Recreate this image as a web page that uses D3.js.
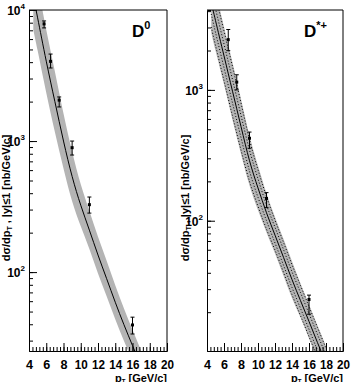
<!DOCTYPE html>
<html>
<head>
<meta charset="utf-8">
<script src="https://cdn.jsdelivr.net/npm/d3@7"></script>
<style>
body { margin: 0; background: #fff; }
text { font-family: "Liberation Sans", Arial, Helvetica, sans-serif; font-weight: bold; fill: #000; }
</style>
</head>
<body>
<svg id="chart" width="354" height="382"></svg>
<script>
// measured points (nb/GeV/c)
const d0Pt   = [5.75, 6.5, 7.5, 9, 11, 16];
const d0Val  = [7837, 4056, 2052, 890, 327, 39.5];
const d0Lo   = [7300, 3610, 1820, 782, 282, 33.7];
const d0Hi   = [8250, 4610, 2170, 1000, 374, 45.3];

const dsPt   = [6.5, 7.5, 9, 11, 16];
const dsVal  = [2421, 1147, 427, 148, 25];
const dsLo   = [1995, 1000, 358, 126, 19.3];
const dsHi   = [2894, 1305, 476, 164, 27];

// theory curves
const thPt     = [4.5, 5, 6, 7, 8, 9, 10, 11, 12, 13, 14, 15, 16, 17, 18];
const d0Th     = [12600, 8710, 4070, 2000, 1000, 537, 324, 209, 135, 89.1, 58.9, 39.8, 27.5, 19.1, 13.2];
const d0ThHi   = [22400, 15500, 7080, 3390, 1620, 832, 468, 292, 186, 122, 79.4, 53.1, 36.3, 25.1, 17.4];
const d0ThLo   = [7080, 4900, 2340, 1170, 617, 347, 224, 150, 97.7, 65.3, 43.7, 29.9, 20.9, 14.5, 10];

const dsTh     = [4680, 3390, 1820, 977, 525, 288, 178, 115, 77.6, 52.5, 35.5, 24.5, 17.0, 11.7, 8.13];
const dsThHi   = [7940, 5750, 3020, 1622, 851, 447, 263, 162, 107, 72.4, 49.0, 33.1, 22.9, 15.8, 11.0];
const dsThLo   = [2750, 2000, 1100, 589, 324, 186, 120, 81.3, 56.2, 38.0, 25.7, 18.2, 12.6, 8.71, 6.03];
const dsInHi   = [5750, 4170, 2240, 1200, 638, 347, 209, 132, 89.1, 60.3, 40.7, 28.2, 19.5, 13.5, 9.33];
const dsInLo   = [3800, 2750, 1480, 794, 432, 240, 151, 100, 67.6, 45.7, 30.9, 21.4, 14.8, 10.2, 7.08];
const dsOutHi  = [7240, 5250, 2820, 1510, 794, 417, 245, 153, 101, 68.4, 46.2, 32.0, 22.1, 15.3, 10.6];
const dsOutLo  = [3020, 2190, 1175, 631, 347, 200, 129, 86.1, 59.6, 40.3, 27.2, 18.8, 13.0, 9.02, 6.24];

const xTicks = [4, 6, 8, 10, 12, 14, 16, 18, 20];

const svg = d3.select("#chart");

function drawPanel(p) {
  let x = d3.scaleLinear().domain([4, 20]).range([p.left, p.right]);
  let y = d3.scaleLog().domain(p.ydom).range([p.bottom, p.top]);
  let g = svg.append("g");

  g.append("clipPath").attr("id", p.id + "clip")
    .append("rect")
    .attr("x", p.left).attr("y", p.top)
    .attr("width", p.right - p.left).attr("height", p.bottom - p.top);

  let plot = g.append("g").attr("clip-path", "url(#" + p.id + "clip)");

  let area = d3.area()
    .x(function(d, i) { return x(thPt[i]); })
    .y0(function(d) { return y(d[0]); })
    .y1(function(d) { return y(d[1]); })
    .curve(d3.curveNatural);

  plot.append("path")
    .attr("fill", "#b4b4b4")
    .attr("d", area(p.lo.map(function(v, i) { return [v, p.hi[i]]; })));

  let line = d3.line()
    .x(function(d, i) { return x(thPt[i]); })
    .y(function(d) { return y(d); })
    .curve(d3.curveNatural);

  (p.dotted || []).forEach(function(arr) {
    plot.append("path")
      .attr("fill", "none")
      .attr("stroke", "#000")
      .attr("stroke-width", 1)
      .attr("stroke-dasharray", "1,2")
      .attr("d", line(arr));
  });

  plot.append("path")
    .attr("fill", "none")
    .attr("stroke", "#000")
    .attr("stroke-width", 1)
    .attr("d", line(p.th));

  // data points
  p.pt.forEach(function(v, i) {
    let cx = x(v), cy = y(p.val[i]);
    g.append("line").attr("x1", cx).attr("x2", cx)
      .attr("y1", y(p.vlo[i])).attr("y2", y(p.vhi[i]))
      .attr("stroke", "#000");
    [p.vlo[i], p.vhi[i]].forEach(function(e) {
      g.append("line").attr("x1", cx - 2).attr("x2", cx + 2)
        .attr("y1", y(e)).attr("y2", y(e)).attr("stroke", "#000");
    });
    g.append("rect").attr("x", cx - 1.5).attr("y", cy - 1.5)
      .attr("width", 3).attr("height", 3).attr("fill", "#000");
  });

  // frame
  g.append("line").attr("x1", p.left).attr("x2", p.right).attr("y1", p.top).attr("y2", p.top)
    .attr("stroke", "#000").attr("stroke-width", 1);
  g.append("line").attr("x1", p.right).attr("x2", p.right).attr("y1", p.top).attr("y2", p.bottom)
    .attr("stroke", "#000").attr("stroke-width", 1);

  // x axis, ticks inside
  let xMinor = d3.range(4, 20.01, 0.4);
  g.append("g").attr("transform", "translate(0," + p.bottom + ")")
    .call(d3.axisBottom(x).tickValues(xMinor).tickSize(-4).tickFormat(""))
    .call(function(a) { a.select(".domain").remove(); });
  let xa = g.append("g").attr("transform", "translate(0," + p.bottom + ")")
    .call(d3.axisBottom(x).tickValues(xTicks).tickSize(-8).tickFormat(d3.format("d")));
  xa.selectAll("path,line").attr("stroke", "#000");
  xa.attr("font-family", null).attr("font-size", null);
  xa.selectAll("text")
    .attr("y", 17.5)
    .attr("dy", null)
    .attr("font-size", 12.5)
    .attr("textLength", function(d) { return d >= 10 ? 13 : 7; })
    .attr("lengthAdjust", "spacingAndGlyphs");

  // y axis, ticks inside
  let yMinor = [];
  for (let e = 0; e < 5; e++) for (let m = 1; m < 10; m++) {
    let v = m * Math.pow(10, e);
    if (v >= p.ydom[0] && v <= p.ydom[1]) yMinor.push(v);
  }
  let yMajor = yMinor.filter(function(v) { return Math.abs(Math.log10(v) % 1) < 1e-9; });
  g.append("g").attr("transform", "translate(" + p.left + ",0)")
    .call(d3.axisRight(y).tickValues(yMinor).tickSize(4).tickFormat(""))
    .call(function(a) { a.select(".domain").attr("stroke", "#000"); });
  g.append("g").attr("transform", "translate(" + p.left + ",0)")
    .call(d3.axisRight(y).tickValues(yMajor).tickSize(8).tickFormat(""))
    .call(function(a) { a.select(".domain").remove(); });

  yMajor.forEach(function(v) {
    let t = g.append("text")
      .attr("x", p.left - 4)
      .attr("y", y(v) + 5)
      .attr("text-anchor", "end")
      .attr("font-size", 12);
    t.append("tspan").text("10");
    t.append("tspan").attr("font-size", 8).attr("dy", -6).text(Math.round(Math.log10(v)));
  });

  // axis titles
  let xt = g.append("text")
    .attr("x", p.right).attr("y", 381.5)
    .attr("text-anchor", "end")
    .attr("font-size", 11);
  xt.append("tspan").text("p");
  xt.append("tspan").attr("font-size", 6).attr("dy", 1).text("T");
  xt.append("tspan").attr("dy", -1).text("  [GeV/c]");

  let yt = g.append("text")
    .attr("transform", "translate(" + p.ytx + ",198) rotate(-90)")
    .attr("text-anchor", "middle")
    .attr("font-size", 11);
  yt.append("tspan").text("d\u03c3/dp");
  yt.append("tspan").attr("font-size", 7).attr("dy", 2).text("T");
  yt.append("tspan").attr("dy", -2).text(" , |y|\u22641  [nb/GeV/c]");

  let lab = g.append("text")
    .attr("x", p.labx).attr("y", 37)
    .attr("font-size", 17);
  lab.append("tspan").text("D");
  lab.append("tspan").attr("font-size", 11).attr("dy", -8).text(p.sup);
}

drawPanel({
  id: "d0", left: 29, right: 167, top: 10, bottom: 351,
  ydom: [25, 10000],
  pt: d0Pt, val: d0Val, vlo: d0Lo, vhi: d0Hi,
  th: d0Th, lo: d0ThLo, hi: d0ThHi,
  ytx: 10, labx: 132, sup: "0"
});

drawPanel({
  id: "ds", left: 207, right: 343, top: 10, bottom: 351,
  ydom: [10.1, 4080],
  pt: dsPt, val: dsVal, vlo: dsLo, vhi: dsHi,
  th: dsTh, lo: dsThLo, hi: dsThHi,
  dotted: [dsInHi, dsInLo, dsOutHi, dsOutLo],
  ytx: 189, labx: 304, sup: "*+"
});
</script>
</body>
</html>
